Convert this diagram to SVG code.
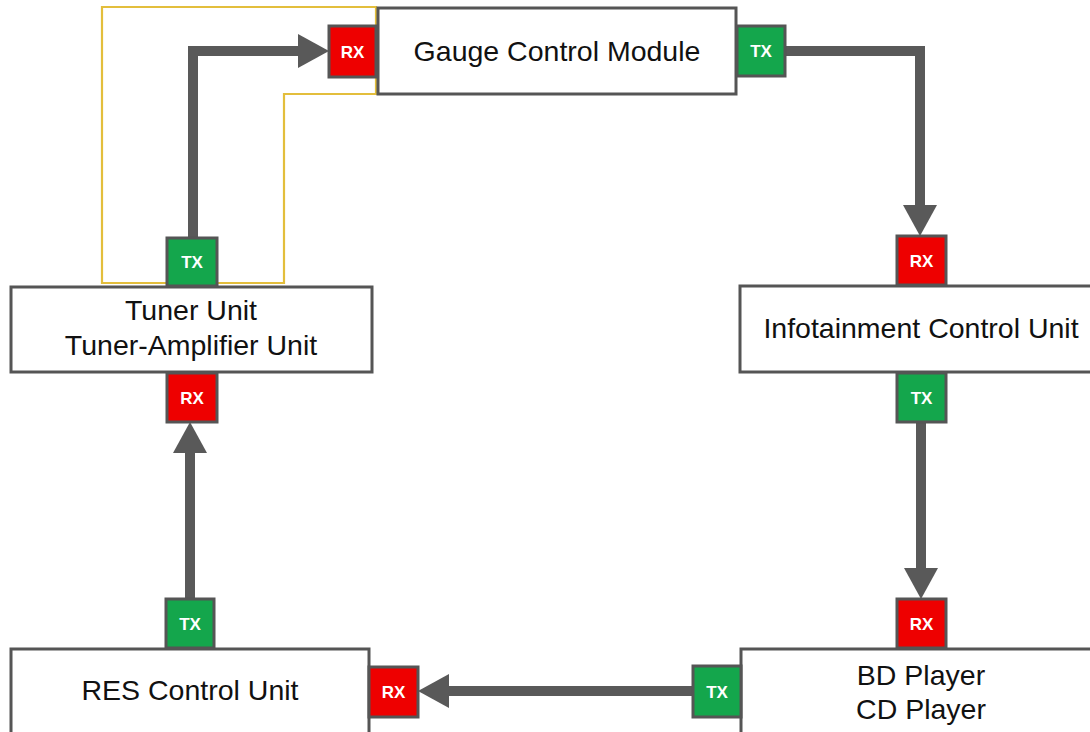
<svg xmlns="http://www.w3.org/2000/svg" width="1090" height="732" viewBox="0 0 1090 732">
<style>
.box{fill:#fff;stroke:#555;stroke-width:3}
.rx{fill:#EE0000;stroke:#555;stroke-width:3}
.tx{fill:#14A64C;stroke:#555;stroke-width:3}
.pl{fill:#fff;font-family:"Liberation Sans",Arial,sans-serif;font-weight:bold;font-size:17px;text-anchor:middle}
.lbl{fill:#111;font-family:"Liberation Sans",Arial,sans-serif;font-size:28.5px;text-anchor:middle}
.conn{fill:none;stroke:#595959;stroke-width:10;marker-end:url(#ah)}
</style>
<defs>
<marker id="ah" viewBox="0 0 31 34" refX="0" refY="17" markerWidth="31" markerHeight="34" markerUnits="userSpaceOnUse" orient="auto">
<path d="M0,0 L31,17 L0,34 z" fill="#595959"/>
</marker>
</defs>
<rect width="1090" height="732" fill="#fff"/>
<polygon points="102,7 376,7 376,94 284,94 284,283 102,283" fill="none" stroke="#E3BE3C" stroke-width="2.2"/>
<g id="connectors">
<path class="conn" d="M786,51 H920 V205"/>
<path class="conn" d="M921,422 V568"/>
<path class="conn" d="M693,691 H449"/>
<path class="conn" d="M190,598 V453"/>
<path class="conn" d="M193,237 V51 H298"/>
</g>
<g id="gauge">
<rect class="box" x="378" y="8" width="358" height="86"/>
<text class="lbl" x="557" y="61">Gauge Control Module</text>
<rect class="rx" x="329" y="26" width="47" height="51"/>
<text class="pl" x="352.5" y="57.5">RX</text>
<rect class="tx" x="737" y="26" width="48" height="50"/>
<text class="pl" x="761" y="57">TX</text>
</g>
<g id="infotainment">
<rect class="box" x="740" y="286" width="360" height="86"/>
<text class="lbl" x="921" y="338">Infotainment Control Unit</text>
<rect class="rx" x="897" y="236" width="49" height="49"/>
<text class="pl" x="921.5" y="266.5">RX</text>
<rect class="tx" x="897" y="373" width="49" height="49"/>
<text class="pl" x="921.5" y="403.5">TX</text>
</g>
<g id="bdplayer">
<rect class="box" x="741" y="649" width="360" height="100"/>
<text class="lbl" x="921" y="685">BD Player</text>
<text class="lbl" x="921" y="719">CD Player</text>
<rect class="rx" x="897" y="599" width="49" height="49"/>
<text class="pl" x="921.5" y="629.5">RX</text>
<rect class="tx" x="693" y="666" width="48" height="51"/>
<text class="pl" x="717" y="697.5">TX</text>
</g>
<g id="res">
<rect class="box" x="11" y="649" width="358" height="100"/>
<text class="lbl" x="190" y="700">RES Control Unit</text>
<rect class="tx" x="166" y="599" width="48" height="49"/>
<text class="pl" x="190" y="629.5">TX</text>
<rect class="rx" x="369" y="667" width="49" height="50"/>
<text class="pl" x="393.5" y="698">RX</text>
</g>
<g id="tuner">
<rect class="box" x="11" y="287" width="361" height="85"/>
<text class="lbl" x="191" y="320">Tuner Unit</text>
<text class="lbl" x="191" y="355">Tuner-Amplifier Unit</text>
<rect class="tx" x="167" y="238" width="50" height="48"/>
<text class="pl" x="192" y="268">TX</text>
<rect class="rx" x="167" y="373" width="50" height="49"/>
<text class="pl" x="192" y="403.5">RX</text>
</g>
</svg>
